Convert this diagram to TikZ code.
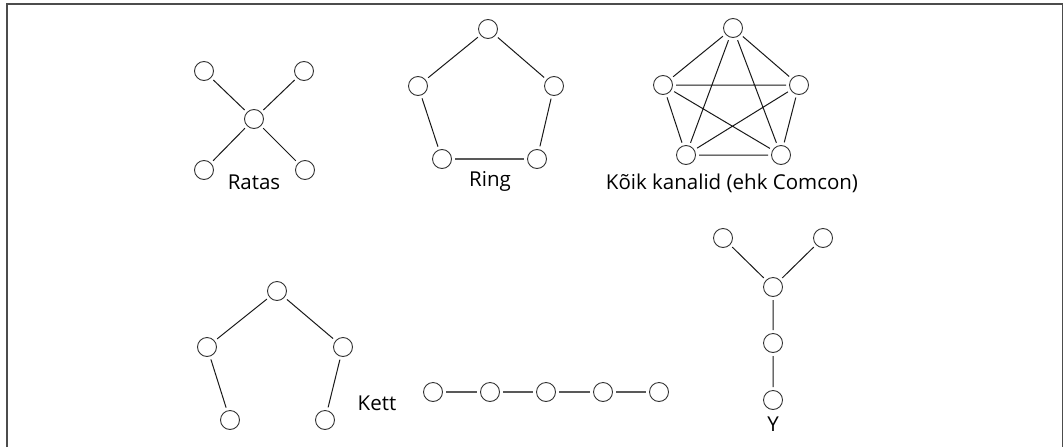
\documentclass[tikz,border=0pt]{standalone}
\usepackage{fontspec}
\setmainfont{Open Sans}
\begin{document}
\begin{tikzpicture}[x=1pt,y=-1pt,
  nd/.style={circle,draw=black!80,line width=0.9pt,inner sep=0pt,minimum size=19pt,outer sep=3.5pt},
  ln/.style={draw=black!90,line width=1pt},
  gl/.style={draw=black!65,line width=1.2pt},
  lbl/.style={font=\fontsize{20.5}{22}\selectfont,text=black,inner sep=0pt}]
\useasboundingbox (0,0) rectangle (1064,447);
\draw[black!70,line width=1.5pt] (7,447) -- (7,4) -- (1062.5,4) -- (1062.5,447);
% Ratas
\node[nd] (r1) at (204,71) {};
\node[nd] (r2) at (304,71) {};
\node[nd] (r0) at (254,119) {};
\node[nd] (r3) at (204,170) {};
\node[nd] (r4) at (305,170) {};
\draw[ln] (r1)--(r0) (r2)--(r0) (r3)--(r0) (r4)--(r0);
\node[lbl] (rl) at (254,182) {Ratas};
% Ring
\node[nd] (g1) at (488,29) {};
\node[nd] (g2) at (554,86) {};
\node[nd] (g3) at (537,159) {};
\node[nd] (g4) at (442,159) {};
\node[nd] (g5) at (418,86) {};
\draw[ln] (g1)--(g2) (g2)--(g3) (g4)--(g5) (g5)--(g1);
\draw[gl] (g3)--(g4);
\node[lbl] (gl) at (490,181) {Ring};
% Comcon
\node[nd] (c1) at (733,28) {};
\node[nd] (c2) at (799,85) {};
\node[nd] (c3) at (781,155) {};
\node[nd] (c4) at (686,155) {};
\node[nd] (c5) at (663,85) {};
\draw[ln] (c1)--(c2) (c2)--(c3) (c3)--(c4) (c4)--(c5) (c5)--(c1)
  (c1)--(c3) (c1)--(c4) (c2)--(c4) (c2)--(c5) (c3)--(c5);
\node[lbl] (cl) at (732,183) {Kõik kanalid (ehk Comcon)};
% Kett tree
\node[nd] (k1) at (277,291) {};
\node[nd] (k2) at (207,347) {};
\node[nd] (k3) at (343,347) {};
\node[nd] (k4) at (230,420) {};
\node[nd] (k5) at (325,420) {};
\draw[ln] (k1)--(k2) (k1)--(k3) (k2)--(k4) (k3)--(k5);
\node[lbl] (kl) at (377,403) {Kett};
% chain
\node[nd] (h1) at (433,392) {};
\node[nd] (h2) at (490,392) {};
\node[nd] (h3) at (546,392) {};
\node[nd] (h4) at (603,392) {};
\node[nd] (h5) at (659,392) {};
\draw[gl] (h1)--(h2) (h2)--(h3) (h3)--(h4) (h4)--(h5);
% Y
\node[nd] (y1) at (723,238) {};
\node[nd] (y2) at (823,238) {};
\node[nd] (y0) at (773,287) {};
\node[nd] (y3) at (773,343) {};
\node[nd] (y4) at (773,400) {};
\draw[ln] (y1)--(y0) (y2)--(y0) (y0)--(y3) (y3)--(y4);
\node[lbl] (yl) at (773,424) {Y};
\end{tikzpicture}
\end{document}
